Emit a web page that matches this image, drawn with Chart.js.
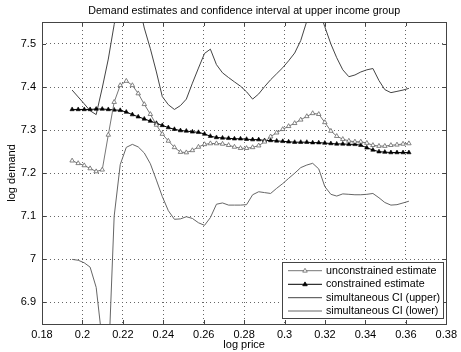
<!DOCTYPE html>
<html><head><meta charset="utf-8">
<script src="https://cdn.jsdelivr.net/npm/chart.js@4"></script>
<style>html,body{margin:0;padding:0;background:#fff}#c{display:block}</style>
</head><body>
<canvas id="c" width="461" height="352"></canvas>
<script>
const logPrice = [0.1949,0.1979,0.2009,0.2038,0.2068,0.2098,0.2128,0.2157,0.2187,0.2217,
0.2247,0.2276,0.2306,0.2336,0.2366,0.2395,0.2425,0.2455,0.2485,0.2514,
0.2544,0.2574,0.2604,0.2633,0.2663,0.2693,0.2723,0.2752,0.2782,0.2812,
0.2842,0.2872,0.2901,0.2931,0.2961,0.2991,0.3020,0.3050,0.3080,0.3110,
0.3139,0.3169,0.3199,0.3229,0.3258,0.3288,0.3318,0.3348,0.3377,0.3407,
0.3437,0.3467,0.3496,0.3526,0.3556,0.3586,0.3615];
const unconstrained = [7.229,7.223,7.218,7.211,7.204,7.208,7.289,7.365,7.404,7.414,
7.404,7.385,7.360,7.337,7.312,7.291,7.275,7.260,7.249,7.248,
7.253,7.261,7.267,7.269,7.269,7.268,7.265,7.261,7.258,7.258,
7.260,7.264,7.273,7.285,7.294,7.302,7.309,7.316,7.324,7.332,
7.339,7.337,7.318,7.298,7.286,7.279,7.275,7.273,7.273,7.270,
7.265,7.263,7.263,7.265,7.266,7.268,7.269];
const constrained = [7.348,7.348,7.348,7.348,7.349,7.349,7.348,7.347,7.346,7.342,
7.336,7.331,7.326,7.321,7.316,7.311,7.306,7.302,7.299,7.298,
7.296,7.295,7.291,7.286,7.283,7.282,7.281,7.280,7.280,7.279,
7.278,7.278,7.276,7.276,7.275,7.274,7.273,7.272,7.272,7.272,
7.271,7.271,7.270,7.269,7.268,7.268,7.267,7.267,7.265,7.259,
7.254,7.250,7.249,7.248,7.248,7.248,7.248];
const ciUpper = [7.393,7.377,7.361,7.345,7.336,7.398,7.465,7.545,7.62,7.66,
7.66,7.60,7.537,7.489,7.435,7.378,7.359,7.348,7.357,7.372,
7.409,7.444,7.478,7.488,7.452,7.433,7.422,7.412,7.402,7.389,
7.372,7.384,7.401,7.417,7.431,7.445,7.461,7.479,7.508,7.553,
7.59,7.58,7.540,7.500,7.468,7.440,7.424,7.428,7.435,7.440,
7.443,7.415,7.394,7.387,7.390,7.393,7.397];
const ciLower = [7.000,6.998,6.992,6.982,6.935,6.81,6.75,7.10,7.22,7.260,
7.267,7.261,7.247,7.222,7.184,7.146,7.113,7.093,7.094,7.099,
7.095,7.085,7.079,7.097,7.128,7.131,7.126,7.126,7.126,7.127,
7.150,7.157,7.155,7.153,7.165,7.176,7.188,7.200,7.213,7.219,
7.223,7.210,7.169,7.151,7.147,7.152,7.151,7.150,7.150,7.151,
7.153,7.143,7.132,7.126,7.127,7.131,7.135];
const xTicks = [0.18,0.2,0.22,0.24,0.26,0.28,0.3,0.32,0.34,0.36,0.38];
const yTicks = [6.9,7.0,7.1,7.2,7.3,7.4,7.5];
const seriesLabels = ['unconstrained estimate','constrained estimate','simultaneous CI (upper)','simultaneous CI (lower)'];
const titleText = 'Demand estimates and confidence interval at upper income group';
const xLabel = 'log price';
const yLabel = 'log demand';

const FONT = "'Liberation Sans', Arial, Helvetica, sans-serif";
Chart.defaults.font.family = FONT;
Chart.defaults.font.size = 11;
Chart.defaults.color = '#000';

const pts = ys => logPrice.map((x, i) => ({x, y: ys[i]}));
const fmt = v => String(Number(v.toFixed(2)));

const decor = {
  id: 'decor',
  afterDatasetsDraw(chart) {
    const {ctx, chartArea: a, scales} = chart;
    ctx.save();
    ctx.strokeStyle = '#444';
    ctx.lineWidth = 1;
    ctx.beginPath();
    xTicks.forEach(t => {
      const px = Math.round(scales.x.getPixelForValue(t)) + 0.5;
      ctx.moveTo(px, a.bottom); ctx.lineTo(px, a.bottom - 4);
      ctx.moveTo(px, a.top); ctx.lineTo(px, a.top + 4);
    });
    yTicks.forEach(t => {
      const py = Math.round(scales.y.getPixelForValue(t)) + 0.5;
      ctx.moveTo(a.left, py); ctx.lineTo(a.left + 4, py);
      ctx.moveTo(a.right, py); ctx.lineTo(a.right - 4, py);
    });
    ctx.stroke();
    ctx.strokeRect(Math.round(a.left) + 0.5, Math.round(a.top) + 0.5,
                   Math.round(a.right - a.left), Math.round(a.bottom - a.top));
    ctx.restore();
  },
  afterDraw(chart) {
    const {ctx, chartArea: a} = chart;
    ctx.save();
    ctx.fillStyle = '#000';
    ctx.font = '10.7px ' + FONT;
    ctx.textAlign = 'center';
    ctx.textBaseline = 'middle';
    ctx.fillText(titleText, (a.left + a.right) / 2, 11.5);
    ctx.font = '11px ' + FONT;
    ctx.fillText(xLabel, (a.left + a.right) / 2, 345);
    ctx.save();
    ctx.translate(12, (a.top + a.bottom) / 2);
    ctx.rotate(-Math.PI / 2);
    ctx.fillText(yLabel, 0, 0);
    ctx.restore();
    // legend
    const bx = 282.5, by = 262.5, bw = 161, bh = 56;
    ctx.fillStyle = '#fff';
    ctx.fillRect(bx, by, bw, bh);
    ctx.strokeStyle = '#444';
    ctx.lineWidth = 1;
    ctx.strokeRect(bx, by, bw, bh);
    ctx.font = '10.7px ' + FONT;
    const rows = [270.7, 284.3, 297.7, 311];
    chart.data.datasets.forEach((ds, i) => {
      const y = rows[i];
      ctx.strokeStyle = ds.borderColor;
      ctx.lineWidth = 1;
      ctx.beginPath();
      ctx.moveTo(288, y); ctx.lineTo(322, y);
      ctx.stroke();
      if (ds.pointRadius > 0) {
        ctx.fillStyle = ds.pointBackgroundColor;
        ctx.strokeStyle = ds.pointBorderColor;
        ctx.lineWidth = 0.8;
        ctx.beginPath();
        const r = 2.4;
        ctx.moveTo(305, y - r);
        ctx.lineTo(305 + r * 0.95, y + r * 0.6);
        ctx.lineTo(305 - r * 0.95, y + r * 0.6);
        ctx.closePath();
        ctx.fill(); ctx.stroke();
      }
      ctx.fillStyle = '#000';
      ctx.textAlign = 'left';
      ctx.fillText(ds.label, 326, y);
    });
    ctx.restore();
  }
};

new Chart(document.getElementById('c'), {
  type: 'scatter',
  data: {
    datasets: [
      {label: seriesLabels[0], data: pts(unconstrained), showLine: true,
       borderColor: '#777', borderWidth: 1, pointStyle: 'triangle', pointRadius: 2.6,
       pointBackgroundColor: '#fff', pointBorderColor: '#666', pointBorderWidth: 0.8},
      {label: seriesLabels[1], data: pts(constrained), showLine: true,
       borderColor: '#000', borderWidth: 1, pointStyle: 'triangle', pointRadius: 2.5,
       pointBackgroundColor: '#000', pointBorderColor: '#000', pointBorderWidth: 0.6},
      {label: seriesLabels[2], data: pts(ciUpper), showLine: true,
       borderColor: '#444', borderWidth: 1, pointRadius: 0},
      {label: seriesLabels[3], data: pts(ciLower), showLine: true,
       borderColor: '#666', borderWidth: 1, pointRadius: 0}
    ]
  },
  options: {
    responsive: false,
    animation: false,
    devicePixelRatio: 1,
    layout: {padding: {left: 0, right: 12, top: 22, bottom: 0}},
    plugins: {legend: {display: false}, title: {display: false}, tooltip: {enabled: false}},
    scales: {
      x: {
        type: 'linear', min: 0.18, max: 0.38,
        afterBuildTicks: s => { s.ticks = xTicks.map(v => ({value: v})); },
        afterFit: s => { s.height = 28; },
        ticks: {callback: v => fmt(v), padding: 4, maxRotation: 0, autoSkip: false, color: '#000'},
        grid: {color: '#666', lineWidth: 1, drawTicks: false},
        border: {display: false, dash: [1, 3]}
      },
      y: {
        type: 'linear', min: 6.85, max: 7.551,
        afterBuildTicks: s => { s.ticks = yTicks.map(v => ({value: v})); },
        afterFit: s => { s.width = 42; },
        ticks: {callback: v => fmt(v), padding: 6, autoSkip: false, color: '#000'},
        grid: {color: '#666', lineWidth: 1, drawTicks: false},
        border: {display: false, dash: [1, 3]}
      }
    }
  },
  plugins: [decor]
});
</script>
</body></html>
